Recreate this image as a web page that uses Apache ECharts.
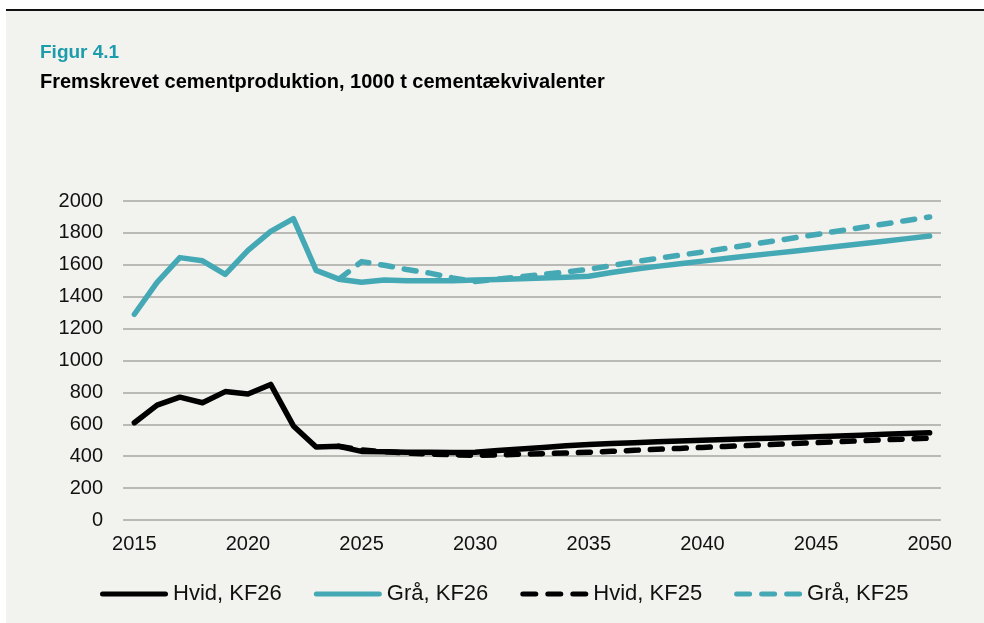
<!DOCTYPE html>
<html>
<head>
<meta charset="utf-8">
<script src="https://cdn.jsdelivr.net/npm/echarts@6/dist/echarts.min.js"></script>
<style>
  html, body { margin: 0; padding: 0; background: #ffffff; }
  #bg { position: absolute; left: 6px; top: 11px; right: 0; bottom: 0; background: #f2f2ee; }
  #rule { position: absolute; left: 6px; top: 9px; right: 0; height: 2px; background: #111; }
  #chart { position: absolute; left: 0; top: 0; width: 984px; height: 623px; }
</style>
</head>
<body>
<div id="bg"></div>
<div id="rule"></div>
<div id="chart"></div>
<script>
const years = [];
for (let y = 2015; y <= 2050; y++) years.push(String(y));

const hvidKF26 = [610, 720, 770, 735, 805, 790, 850, 590, 458, 462,
  430, 428, 425, 424, 423, 425, 435, 445, 455, 465,
  473, 480, 485, 490, 495, 500, 505, 510, 513, 517,
  522, 527, 532, 537, 542, 547];

const graaKF26 = [1290, 1490, 1645, 1625, 1540, 1690, 1810, 1890, 1565, 1510,
  1490, 1505, 1500, 1500, 1500, 1505, 1508, 1512, 1517, 1522,
  1528, 1552, 1572, 1590, 1607, 1623, 1639, 1655, 1670, 1685,
  1700, 1716, 1732, 1748, 1764, 1780];

const hvidKF25 = [null, null, null, null, null, null, null, null, null, 462,
  440, 428, 420, 414, 409, 405, 408, 412, 416, 420,
  425, 431, 437, 443, 449, 455, 461, 467, 473, 479,
  485, 491, 497, 503, 508, 513];

const graaKF25 = [null, null, null, null, null, null, null, null, null, 1510,
  1620, 1597, 1570, 1548, 1518, 1495, 1510, 1525, 1540, 1555,
  1572, 1595, 1618, 1640, 1660, 1680, 1702, 1724, 1746, 1768,
  1790, 1812, 1834, 1856, 1878, 1900];

const FONT = 'Liberation Sans, Arial, sans-serif';
const TEAL = '#45a9b5';
const DASH = [12, 12];

// legend icons: one long capsule, or three short ones for the dashed series
const SOLID_ICON = 'path://M2.5,0H65.5A2.5,2.5 0 0 1 65.5,5H2.5A2.5,2.5 0 0 1 2.5,0Z';
const DASH_ICON = 'path://M2.5,0H15.5A2.5,2.5 0 0 1 15.5,5H2.5A2.5,2.5 0 0 1 2.5,0Z'
  + 'M27.5,0H40.5A2.5,2.5 0 0 1 40.5,5H27.5A2.5,2.5 0 0 1 27.5,0Z'
  + 'M52.5,0H65.5A2.5,2.5 0 0 1 65.5,5H52.5A2.5,2.5 0 0 1 52.5,0Z';

const chart = echarts.init(document.getElementById('chart'), null, { renderer: 'canvas' });

function lineSeries(name, data, color, dashed) {
  return {
    name: name,
    type: 'line',
    data: data,
    symbol: 'none',
    connectNulls: false,
    lineStyle: {
      color: color,
      width: 5.5,
      type: dashed ? DASH : 'solid',
      cap: 'round',
      join: 'round'
    },
    itemStyle: { color: color },
    emphasis: { disabled: true }
  };
}

chart.setOption({
  backgroundColor: 'transparent',
  animation: false,
  title: [
    {
      text: 'Figur 4.1',
      left: 40, top: 43, padding: 0,
      textStyle: { color: '#1d9cab', fontSize: 19, fontWeight: 'bold', fontFamily: FONT }
    },
    {
      text: 'Fremskrevet cementproduktion, 1000 t cementækvivalenter',
      left: 40, top: 72, padding: 0,
      textStyle: { color: '#000', fontSize: 20, fontWeight: 'bold', fontFamily: FONT }
    }
  ],
  legend: {
    bottom: 13,
    left: 95,
    itemWidth: 68,
    itemHeight: 5,
    itemGap: 32,
    textStyle: { color: '#111', fontSize: 22, fontFamily: FONT },
    data: [
      { name: 'Hvid, KF26', icon: SOLID_ICON },
      { name: 'Grå, KF26', icon: SOLID_ICON },
      { name: 'Hvid, KF25', icon: DASH_ICON },
      { name: 'Grå, KF25', icon: DASH_ICON }
    ]
  },
  grid: { left: 123, right: 43, top: 201, bottom: 103 },
  xAxis: {
    type: 'category',
    data: years,
    boundaryGap: true,
    axisLine: { show: false },
    axisTick: { show: false },
    axisLabel: {
      interval: 4,
      margin: 14,
      color: '#111',
      fontSize: 20,
      fontFamily: FONT
    },
    splitLine: { show: false }
  },
  yAxis: {
    type: 'value',
    min: 0,
    max: 2000,
    interval: 200,
    axisLine: { show: false },
    axisTick: { show: false },
    axisLabel: {
      margin: 20, color: '#111', fontSize: 20, fontFamily: FONT,
      formatter: function(v) { return String(v); }
    },
    splitLine: { lineStyle: { color: '#a6a6a3', width: 1.5 } }
  },
  series: [
    lineSeries('Hvid, KF26', hvidKF26, '#000000', false),
    lineSeries('Grå, KF26', graaKF26, TEAL, false),
    lineSeries('Hvid, KF25', hvidKF25, '#000000', true),
    lineSeries('Grå, KF25', graaKF25, TEAL, true)
  ]
});
</script>
</body>
</html>
